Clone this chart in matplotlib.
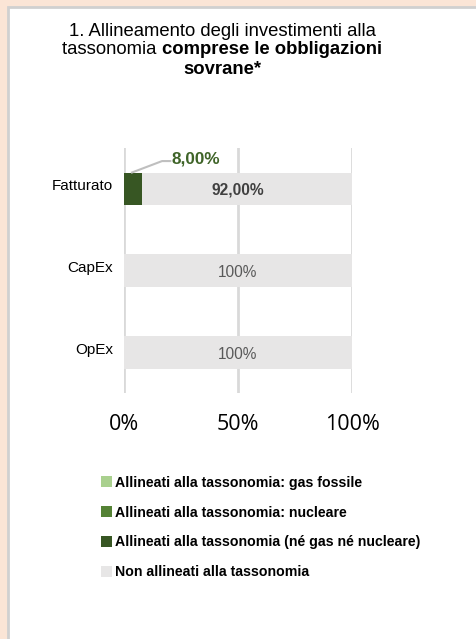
import matplotlib
matplotlib.use("Agg")
import matplotlib.pyplot as plt
import matplotlib.transforms as mtrans
from matplotlib.patches import Rectangle, Patch

categories = ["Fatturato", "CapEx", "OpEx"]
gas = [0.0, 0.0, 0.0]
nuclear = [0.0, 0.0, 0.0]
aligned_other = [8.0, 0.0, 0.0]
not_aligned = [92.0, 100.0, 100.0]
xticks = [0, 50, 100]
xtick_labels = ["0%", "50%", "100%"]
series_names = ["Allineati alla tassonomia: gas fossile",
                "Allineati alla tassonomia: nucleare",
                "Allineati alla tassonomia (né gas né nucleare)",
                "Non allineati alla tassonomia"]
colors = ["#A9D08E", "#548235", "#375623", "#E7E6E6"]

FONT = "Liberation Sans"

W, H = 476, 639
fig = plt.figure(figsize=(W/100, H/100), dpi=100, facecolor="#FBE5D6")
fig.patches.append(Rectangle((8/W, -0.01), 1.0, 1 - 7/H + 0.01, transform=fig.transFigure,
                             facecolor="white", edgecolor="#D0D0D0", linewidth=2, zorder=-5))

ax = fig.add_axes([124/W, 1 - 393/H, 228/W, 245/H])
ax.set_facecolor("none")
y = list(range(len(categories)))
left = [0.0]*3
bh = 0.40
for vals, c in zip([gas, nuclear, aligned_other, not_aligned], colors):
    ax.barh(y, vals, left=left, height=bh, color=c, zorder=2)
    left = [l + v for l, v in zip(left, vals)]

ax.set_ylim(2.5, -0.5)
ax.set_xlim(0, 100)
ax.set_xticks(xticks)
ax.set_xticklabels(xtick_labels, fontsize=15.5, family="Open Sans", color="black")
ax.set_yticks(y)
ax.set_yticklabels(categories, fontsize=11, family=FONT, color="black")
ax.tick_params(axis="y", length=0, pad=8)
ax.tick_params(axis="x", length=0, pad=15)
shift = mtrans.ScaledTranslation(0, 4/100, fig.dpi_scale_trans)
for lbl in ax.get_yticklabels():
    lbl.set_transform(lbl.get_transform() + shift)
for s in ax.spines.values():
    s.set_visible(False)
ax.xaxis.grid(True, color="#D9D9D9", linewidth=2, zorder=1)
ax.set_axisbelow(True)

# labels
for i in range(3):
    if not_aligned[i] >= 100:
        ax.text(50, i + 0.03, f"{not_aligned[i]:.0f}%", ha="center", va="center",
                fontsize=11.2, family=FONT, color="#595959", zorder=3)
    else:
        xc = aligned_other[i] + not_aligned[i] / 2 - 4
        ax.text(xc, i + 0.01, f"{not_aligned[i]:.2f}%".replace(".", ","), ha="center", va="center",
                fontsize=11.2, family=FONT, weight="bold", color="#404040", zorder=3)
    if aligned_other[i] > 0:
        x0 = aligned_other[i] / 2 - 0.5
        ax.plot([x0, 16.7, 20.3], [i - 0.20, i - 0.34, i - 0.34], color="#BFBFBF",
                linewidth=1.5, clip_on=False, zorder=3)
        ax.text(20.8, i - 0.37, f"{aligned_other[i]:.2f}%".replace(".", ","), ha="left",
                va="center", fontsize=12.3, family=FONT, weight="bold", color="#3F6428")

# title
TS = 13.3
cx = 222 / W
fig.text(cx, 1 - 32/H, "1. Allineamento degli investimenti alla", ha="center", va="center",
         fontsize=TS, family=FONT)
fig.canvas.draw()
r = fig.canvas.get_renderer()
t1 = fig.text(0, 1 - 50/H, "tassonomia ", ha="left", va="center", fontsize=TS, family=FONT)
t2 = fig.text(0, 1 - 50/H, "comprese le obbligazioni", ha="left", va="center", fontsize=TS,
              family=FONT, weight="bold")
w1 = t1.get_window_extent(r).width
w2 = t2.get_window_extent(r).width
x_start = cx * W - (w1 + w2) / 2
t1.set_x(x_start / W)
t2.set_x((x_start + w1) / W)
fig.text(cx, 1 - 69/H, "sovrane*", ha="center", va="center",
         fontsize=TS, family=FONT, weight="bold")

handles = [Patch(facecolor=c, edgecolor="none") for c in colors]
leg = fig.legend(handles, series_names, loc="upper left", bbox_to_anchor=(88/W, 1 - 463/H),
                 frameon=False, handlelength=0.8, handleheight=0.8, handletextpad=0.2,
                 labelspacing=1.12, prop={"family": FONT, "weight": "bold", "size": 10.2})

fig.savefig("out.png", dpi=100, facecolor=fig.get_facecolor())
